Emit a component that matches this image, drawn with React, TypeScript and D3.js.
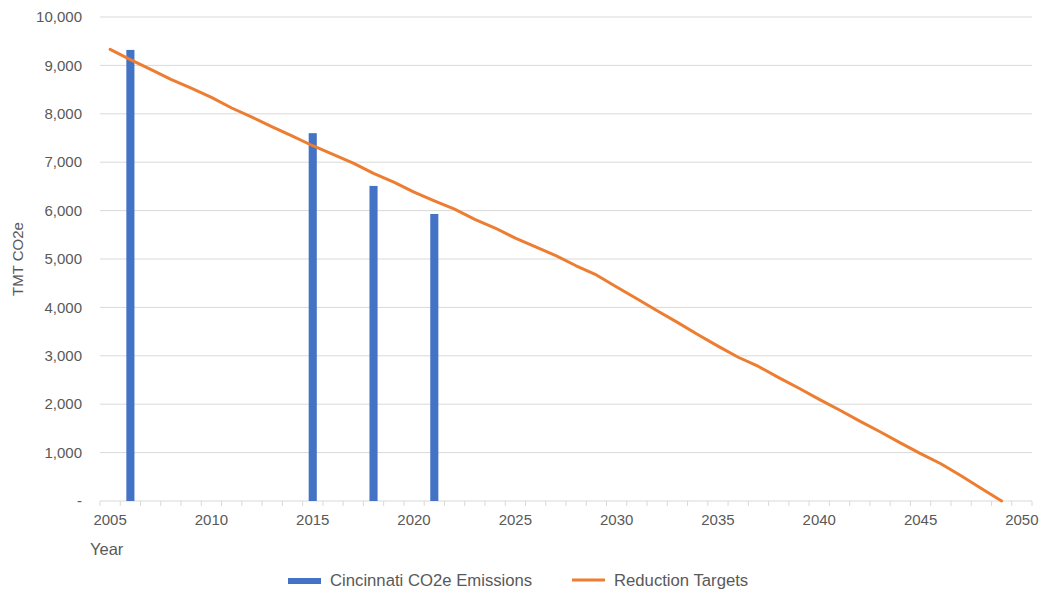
import { useMemo } from 'react';
import * as d3 from 'd3';

// categories: one per year
const years = d3.range(2005, 2051);

// Cincinnati CO2e emissions (TMT CO2e), inventory years only
const emissionYears = [2006, 2015, 2018, 2021];
const emissionValues = [9320, 7600, 6510, 5930];

// Reduction targets line per year
const targetYears = d3.range(2005, 2050);
const targetValues = [
  9330, 9120, 8920, 8710, 8530, 8340, 8120, 7930, 7730, 7540,
  7340, 7160, 6980, 6770, 6590, 6380, 6200, 6030, 5820, 5640,
  5430, 5250, 5070, 4860, 4670, 4420, 4180, 3930, 3690, 3440,
  3200, 2970, 2780, 2550, 2330, 2100, 1880, 1650, 1430, 1200,
  980, 770, 520, 260, 0,
];

const yTicks = d3.range(0, 10001, 1000);
const xLabelYears = [2005, 2010, 2015, 2020, 2025, 2030, 2035, 2040, 2045, 2050];

const BLUE = '#4472c4';
const ORANGE = '#ed7d31';
const GRID = '#d9d9d9';
const TEXT = '#595959';
const FONT = '"Liberation Sans", Arial, sans-serif';

export default function App() {
  const width = 1047;
  const height = 592;
  const margin = { top: 17, right: 15, bottom: 91, left: 100 };

  const x = useMemo(
    () => d3.scaleBand<number>().domain(years).range([margin.left, width - margin.right]).padding(0),
    []
  );
  const y = useMemo(
    () => d3.scaleLinear().domain([0, 10000]).range([height - margin.bottom, margin.top]),
    []
  );

  const bw = x.bandwidth();
  const barW = bw / 2.5;
  const center = (yr: number) => (x(yr) as number) + bw / 2;

  const line = d3
    .line<number>()
    .x((_, i) => center(targetYears[i]))
    .y((d) => y(d));

  const fmt = (v: number) => (v === 0 ? '-' : d3.format(',')(v));
  const baseY = y(0);

  return (
    <svg
      width={width}
      height={height}
      style={{ position: 'absolute', left: 0, top: 0, background: '#fff' }}
      fontFamily={FONT}
    >
      {/* gridlines */}
      {yTicks.map((t) => (
        <line
          key={t}
          x1={margin.left}
          x2={width - margin.right}
          y1={y(t)}
          y2={y(t)}
          stroke={GRID}
          strokeWidth={1}
        />
      ))}
      {/* y tick labels */}
      {yTicks.map((t) => (
        <text
          key={'l' + t}
          x={82}
          y={y(t)}
          dy="0.35em"
          textAnchor="end"
          fontSize={15}
          fill={TEXT}
        >
          {fmt(t)}
        </text>
      ))}
      {/* x axis ticks */}
      {years.concat([2051]).map((yr, i) => {
        const xx = margin.left + i * bw;
        return (
          <line key={'t' + yr} x1={xx} x2={xx} y1={baseY} y2={baseY + 5} stroke={GRID} />
        );
      })}
      {xLabelYears.map((yr) => (
        <text
          key={'x' + yr}
          x={center(yr)}
          y={baseY + 24}
          textAnchor="middle"
          fontSize={15}
          fill={TEXT}
        >
          {yr}
        </text>
      ))}
      {/* bars */}
      {emissionYears.map((yr, i) => (
        <rect
          key={'b' + yr}
          x={center(yr) - barW / 2}
          y={y(emissionValues[i])}
          width={barW}
          height={baseY - y(emissionValues[i])}
          fill={BLUE}
        />
      ))}
      {/* reduction targets line */}
      <path
        d={line(targetValues) || ''}
        fill="none"
        stroke={ORANGE}
        strokeWidth={3}
        strokeLinejoin="round"
        strokeLinecap="round"
      />
      {/* axis titles */}
      <text
        transform={`translate(23,${(y(10000) + baseY) / 2}) rotate(-90)`}
        textAnchor="middle"
        fontSize={15}
        fill={TEXT}
      >
        TMT CO2e
      </text>
      <text x={90} y={555} fontSize={16.5} fill={TEXT}>
        Year
      </text>
      {/* legend */}
      <rect x={288} y={578} width={33} height={6} fill={BLUE} />
      <text x={330} y={580} dy="0.35em" fontSize={16.7} fill={TEXT}>
        Cincinnati CO2e Emissions
      </text>
      <line x1={572} x2={605} y1={580} y2={580} stroke={ORANGE} strokeWidth={3} />
      <text x={614} y={580} dy="0.35em" fontSize={16.7} fill={TEXT}>
        Reduction Targets
      </text>
    </svg>
  );
}
